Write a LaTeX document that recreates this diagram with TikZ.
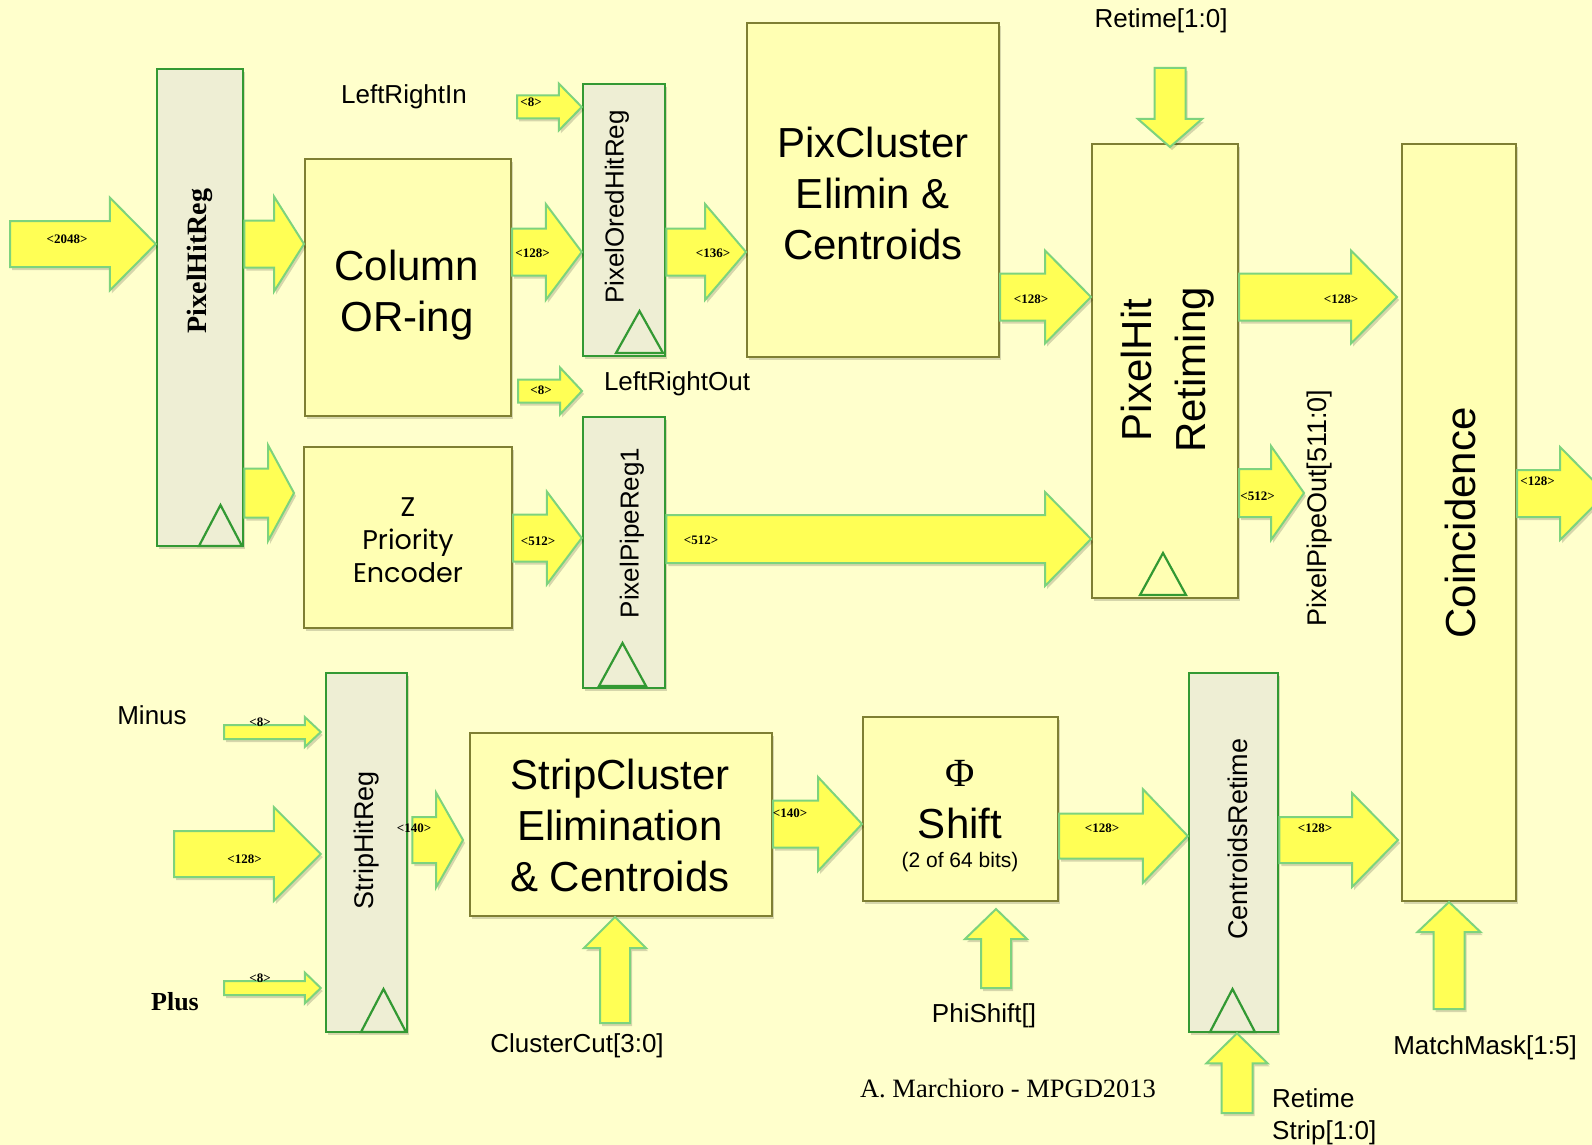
\documentclass[tikz,border=0pt]{standalone}
\usepackage{fontspec}
\setmainfont{Liberation Serif}
\setsansfont{Liberation Sans}
\newfontfamily\handfont{Poppins}
\usetikzlibrary{calc,shadows}

\definecolor{paper}{HTML}{FFFFCC}
\definecolor{boxfill}{HTML}{FFFFB3}
\definecolor{boxline}{HTML}{7F7F33}
\definecolor{regfill}{HTML}{EEEED4}
\definecolor{regline}{HTML}{339933}
\definecolor{arrowfill}{HTML}{FFFF55}
\definecolor{arrowline}{HTML}{7DD37D}

\tikzset{
  softshadow/.style={drop shadow={shadow xshift=2pt, shadow yshift=-3pt, opacity=0.16, fill=black}},
  procbox/.style={draw=boxline, fill=boxfill, line width=2pt, inner sep=0pt, softshadow},
  regbox/.style={draw=regline, fill=regfill, line width=2.5pt, inner sep=0pt, softshadow},
  clock/.style={draw=regline, line width=2.2pt, line join=miter},
  blockarrow/.style={draw=arrowline, fill=arrowfill, line width=2pt, line join=miter, softshadow},
  bus/.style={font=\bfseries\fontsize{13}{13}\selectfont, inner sep=0pt},
  sig/.style={font=\sffamily\fontsize{26}{32}\selectfont, inner sep=0pt},
  big/.style={font=\sffamily\fontsize{42}{51}\selectfont, align=center, inner sep=0pt},
  regtext/.style={font=\sffamily\fontsize{26}{26}\selectfont, rotate=90, inner sep=0pt},
}

% block arrow: [options]{tail}{tip}{head length}{shaft half width}{head half width}
\newcommand\barrow[6][]{%
  \coordinate (ba-t) at #2;
  \coordinate (ba-h) at #3;
  \coordinate (ba-b) at ($(ba-h)!#4pt!(ba-t)$);
  \path[blockarrow,#1] ($(ba-t)!#5pt!90:(ba-h)$) -- ($(ba-b)!#5pt!90:(ba-h)$)
     -- ($(ba-b)!#6pt!90:(ba-h)$) -- (ba-h) -- ($(ba-b)!#6pt!-90:(ba-h)$)
     -- ($(ba-b)!#5pt!-90:(ba-h)$) -- ($(ba-t)!#5pt!-90:(ba-h)$) -- cycle;}

\begin{document}
\begin{tikzpicture}[x=1pt, y=-1pt]
  \useasboundingbox (0,0) rectangle (1592,1145);
  \fill[paper] (0,0) rectangle (1592,1145);
  \clip (0,0) rectangle (1592,1145);

  % processing blocks
  \node[procbox, minimum width=206pt, minimum height=257pt] (colOR)    at (408,287.5) {};
  \node[procbox, minimum width=208pt, minimum height=181pt] (zpri)     at (408,537.5) {};
  \node[procbox, minimum width=252pt, minimum height=334pt] (pixclu)   at (873,190) {};
  \node[procbox, minimum width=146pt, minimum height=454pt] (pixhit)   at (1165,371) {};
  \node[procbox, minimum width=114pt, minimum height=757pt] (coinc)    at (1459,522.5) {};
  \node[procbox, minimum width=302pt, minimum height=183pt] (stripclu) at (621,824.5) {};
  \node[procbox, minimum width=195pt, minimum height=184pt] (phi)      at (960.5,809) {};

  % registers
  \node[regbox, minimum width=86pt, minimum height=477pt] (pixhitreg) at (200,307.5) {};
  \node[regbox, minimum width=82pt, minimum height=272pt] (pixored)   at (624,220) {};
  \node[regbox, minimum width=82pt, minimum height=271pt] (pixpipe)   at (624,552.5) {};
  \node[regbox, minimum width=81pt, minimum height=359pt] (stripreg)  at (366.5,852.5) {};
  \node[regbox, minimum width=89pt, minimum height=359pt] (centret)   at (1233.5,852.5) {};

  % clock inputs
  \draw[clock] (199,546) -- (220.5,505) -- (242,546) -- cycle;
  \draw[clock] (616,353) -- (639.5,311) -- (663,353) -- cycle;
  \draw[clock] (599,686) -- (622.5,643) -- (646,686) -- cycle;
  \draw[clock] (1140,595) -- (1163,553) -- (1186,595) -- cycle;
  \draw[clock] (361,1032) -- (383.5,989) -- (406,1032) -- cycle;
  \draw[clock] (1210,1032) -- (1232.5,989) -- (1255,1032) -- cycle;

  % free ends of the buses
  \coordinate (in2048)   at (10,244);
  \coordinate (pipeout)  at (1304,493);
  \coordinate (matchout) at (1606,493.5);
  \coordinate (lrin)     at (517,107);
  \coordinate (lroutA)   at (518,391);
  \coordinate (lroutB)   at (582,391);
  \coordinate (minus)    at (224,732);
  \coordinate (plus)     at (224,988);
  \coordinate (strip128) at (174,854);
  \coordinate (retime)   at (1170,68);
  \coordinate (ccut)     at (615,1023);
  \coordinate (pshift)   at (996,988);
  \coordinate (rstrip)   at (1237,1113);
  \coordinate (mmask)    at (1449,1009);

  % pixel path
  \barrow{(in2048)}{(pixhitreg.west |- in2048)}{46}{23}{46.5}
  \barrow{(pixhitreg.east |- 0,244)}{(colOR.west |- 0,244)}{30}{23.5}{47.5}
  \barrow{(pixhitreg.east |- 0,493)}{($(zpri.west |- 0,493)+(-9,0)$)}{26}{24.5}{48}
  \barrow{(colOR.east |- 0,252)}{(pixored.west |- 0,252)}{36}{23.5}{48}
  \barrow{(pixored.east |- 0,252)}{(pixclu.west |- 0,252)}{41}{23.5}{48}
  \barrow{(pixclu.east |- 0,297)}{(pixhit.west |- 0,297)}{46}{23.5}{46.5}
  \barrow{(pixhit.east |- 0,297)}{($(coinc.west |- 0,297)+(-4,0)$)}{46}{23.5}{46.5}
  \barrow{(pixhit.east |- pipeout)}{(pipeout)}{33}{24}{47}
  \barrow{(zpri.east |- 0,538)}{(pixpipe.west |- 0,538)}{35}{23.5}{46.5}
  \barrow{(pixpipe.east |- 0,539)}{(pixhit.west |- 0,539)}{46}{24}{47}
  \barrow{(coinc.east |- matchout)}{(matchout)}{46}{23.5}{46.5}
  \barrow{(lrin)}{(pixored.west |- lrin)}{23}{11.5}{23.5}
  \barrow{(lroutA)}{(lroutB)}{22}{11.5}{23.5}

  % strip path
  \barrow{(minus)}{($(stripreg.west |- minus)+(-4,0)$)}{16}{7}{15}
  \barrow{(plus)}{($(stripreg.west |- plus)+(-4,0)$)}{16}{7}{15.5}
  \barrow{(strip128)}{($(stripreg.west |- strip128)+(-4,0)$)}{47}{23}{47}
  \barrow{($(stripreg.east |- 0,840)+(4,0)$)}{($(stripclu.west |- 0,840)+(-6,0)$)}{27}{23}{47.5}
  \barrow{(stripclu.east |- 0,824)}{(phi.west |- 0,824)}{44}{23.5}{47}
  \barrow{(phi.east |- 0,836)}{(centret.west |- 0,836)}{45}{22.5}{47}
  \barrow{(centret.east |- 0,840)}{($(coinc.west |- 0,840)+(-3,0)$)}{46}{23}{47}

  % control inputs
  \barrow{(retime)}{($(retime |- pixhit.north)+(0,4)$)}{28}{15.5}{32}
  \barrow{(ccut)}{(ccut |- stripclu.south)}{31}{15}{31}
  \barrow{(pshift)}{($(pshift |- phi.south)+(0,7)$)}{30}{15}{31}
  \barrow{(rstrip)}{(rstrip |- centret.south)}{30}{15.5}{30.5}
  \barrow{(mmask)}{(mmask |- coinc.south)}{30}{15.5}{31.5}

  % bus widths
  \node[bus] (w2048)  at (67,239)    {<2048>};
  \node[bus] (w8a)    at (531,102)   {<8>};
  \node[bus] (w128a)  at (532.5,253) {<128>};
  \node[bus] (w136)   at (713,253)   {<136>};
  \node[bus] (w8b)    at (541,390)   {<8>};
  \node[bus] (w128b)  at (1031,299)  {<128>};
  \node[bus] (w128c)  at (1341,299)  {<128>};
  \node[bus] (w512a)  at (1257.5,496){<512>};
  \node[bus] (w512b)  at (538,541)   {<512>};
  \node[bus] (w512c)  at (701,540)   {<512>};
  \node[bus] (w128d)  at (1537.5,481){<128>};
  \node[bus] (w8c)    at (260,722)   {<8>};
  \node[bus] (w8d)    at (260,978)   {<8>};
  \node[bus] (w128e)  at (244.5,859) {<128>};
  \node[bus] (w140a)  at (414,828)   {<140>};
  \node[bus] (w140b)  at (790,813)   {<140>};
  \node[bus] (w128f)  at (1102,828)  {<128>};
  \node[bus] (w128g)  at (1315,828)  {<128>};

  % block titles
  \node[big] (colORt)  at (407,295) {Column\\OR-ing};
  \node[big] (pixclut) at (873,193) {PixCluster\\Elimin \&\\Centroids};
  \node[big, rotate=90, font=\sffamily\fontsize{42}{54}\selectfont] (pixhitt) at (1168,370) {PixelHit\\Retiming};
  \node[big, rotate=90] (coinct) at (1460,523) {Coincidence};
  \node[big] (stripclut) at (620,825) {StripCluster\\Elimination\\\& Centroids};
  \node[font=\handfont\fontsize{27}{33}\selectfont, align=center, inner sep=0pt] (zprit) at (408,540) {Z\\Priority\\Encoder};
  \node[font=\fontsize{40}{40}\selectfont, inner sep=0pt] (phit) at (960,773) {Φ};
  \node[font=\sffamily\fontsize{42}{42}\selectfont, inner sep=0pt] (shiftt) at (960,823) {Shift};
  \node[font=\sffamily\fontsize{21}{21}\selectfont, inner sep=0pt] (bitst) at (960,862) {(2 of 64 bits)};

  % register titles
  \node[font=\bfseries\fontsize{28}{28}\selectfont, rotate=90, inner sep=0pt] (pixhitregt) at (200,261) {PixelHitReg};
  \node[regtext] (pixoredt) at (617,207) {PixelOredHitReg};
  \node[regtext] (pixpipet) at (632,533) {PixelPipeReg1};
  \node[regtext, font=\sffamily\fontsize{27}{27}\selectfont] (stripregt) at (367,840) {StripHitReg};
  \node[regtext, font=\sffamily\fontsize{27}{27}\selectfont] (centrett) at (1238,839) {CentroidsRetime};

  % signal names
  \node[sig] (lrint) at (404,97) {LeftRightIn};
  \node[sig] (lroutt) at (677,384) {LeftRightOut};
  \node[sig] (retimet) at (1161,21) {Retime[1:0]};
  \node[sig, rotate=90, font=\sffamily\fontsize{27}{27}\selectfont] (pipeoutt) at (1320,508) {PixelPipeOut[511:0]};
  \node[sig] (minust) at (152,715) {Minus};
  \node[font=\bfseries\fontsize{26}{26}\selectfont, inner sep=0pt] (plust) at (175,1002) {Plus};
  \node[sig] (ccutt) at (577,1046) {ClusterCut[3:0]};
  \node[sig] (pshiftt) at (984,1016) {PhiShift[]};
  \node[sig, align=left, anchor=west] (rstript) at (1272,1117) {Retime\\Strip[1:0]};
  \node[sig] (mmaskt) at (1485,1048) {MatchMask[1:5]};
  \node[font=\fontsize{26.5}{26.5}\selectfont, inner sep=0pt] (credit) at (1008,1088) {A. Marchioro - MPGD2013};
\end{tikzpicture}
\end{document}
